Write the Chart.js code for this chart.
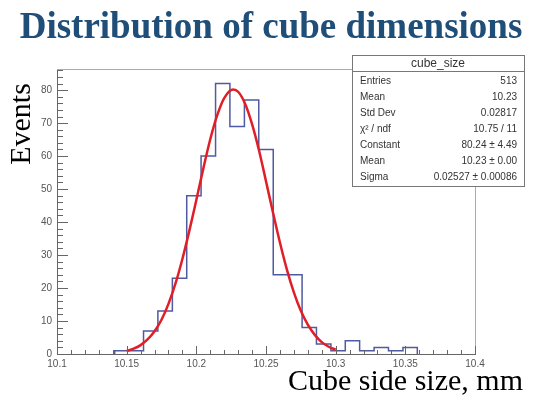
<!DOCTYPE html>
<html>
<head>
<meta charset="utf-8">
<script src="https://cdn.jsdelivr.net/npm/chart.js@4"></script>
<style>
  body { margin: 0; background: #fff; }
  canvas { display: block; }
</style>
</head>
<body>
<canvas id="cubechart" width="538" height="397"></canvas>
<script>
'use strict';

// histogram: bin edges (mm) and entries per bin
var binEdges = [10.1414, 10.1517, 10.1621, 10.1724, 10.1828, 10.1931, 10.2034, 10.2138,
  10.2241, 10.2345, 10.2448, 10.2552, 10.2655, 10.2759, 10.2862, 10.2966, 10.3069,
  10.3172, 10.3276, 10.3379, 10.3483, 10.3586];
var binCounts = [1, 1, 7, 13, 23, 48, 60, 82, 69, 77, 62, 24, 24, 8, 3, 1, 4, 1, 2, 1, 2];

// red gaussian fit curve
var fitX = [10.150, 10.155, 10.160, 10.165, 10.170, 10.175, 10.180, 10.185, 10.190, 10.195,
  10.200, 10.205, 10.210, 10.215, 10.220, 10.2265, 10.230, 10.235, 10.240, 10.245, 10.250,
  10.255, 10.260, 10.265, 10.270, 10.275, 10.280, 10.285, 10.290, 10.295, 10.300];
var fitY = [0.9, 1.6, 2.7, 4.4, 6.9, 10.4, 15.2, 21.3, 28.8, 37.4,
  46.7, 56.2, 65.1, 72.4, 77.6, 80.2, 79.5, 75.9, 69.7, 61.7, 52.4,
  42.9, 33.8, 25.6, 18.7, 13.1, 8.9, 5.8, 3.6, 2.2, 1.3];

// stats box
var statsTitle = 'cube_size';
var statNames = ['Entries', 'Mean', 'Std Dev', 'χ² / ndf', 'Constant', 'Mean', 'Sigma'];
var statValues = ['513', '10.23', '0.02817', '10.75 / 11', '80.24 ± 4.49', '10.23 ± 0.00', '0.02527 ± 0.00086'];

var chartTitle = 'Distribution of cube dimensions';
var yTitle = 'Events';
var xTitle = 'Cube side size, mm';

// step outline of the histogram
var histPoints = [{x: binEdges[0], y: 0}];
for (var i = 0; i < binCounts.length; i++) {
  histPoints.push({x: binEdges[i], y: binCounts[i]});
}
histPoints.push({x: binEdges[binEdges.length - 1], y: 0});

var fitPoints = [];
for (var j = 0; j < fitX.length; j++) {
  fitPoints.push({x: fitX[j], y: fitY[j]});
}

// ROOT style decorations: frame, inward ticks, stats box, titles
var rootStyle = {
  id: 'rootStyle',
  afterDraw: function (chart) {
    var ctx = chart.ctx;
    var area = chart.chartArea;
    var xs = chart.scales.x;
    var ys = chart.scales.y;
    ctx.save();

    // frame top and right
    ctx.strokeStyle = '#aaa';
    ctx.lineWidth = 1;
    ctx.beginPath();
    ctx.moveTo(area.left, area.top + 0.5);
    ctx.lineTo(area.right + 0.5, area.top + 0.5);
    ctx.lineTo(area.right + 0.5, area.bottom);
    ctx.stroke();

    // inward ticks
    ctx.strokeStyle = '#666';
    ctx.beginPath();
    for (var k = 0; k <= 30; k++) {
      var px = Math.round(xs.getPixelForValue(10.1 + k * 0.01)) + 0.5;
      var len = (k % 5 === 0) ? 8 : 4;
      ctx.moveTo(px, area.bottom);
      ctx.lineTo(px, area.bottom - len);
    }
    for (var m = 0; m <= 86; m += 2) {
      var py = Math.round(ys.getPixelForValue(m)) + 0.5;
      var ylen = (m % 10 === 0) ? 11 : 6;
      ctx.moveTo(area.left, py);
      ctx.lineTo(area.left + ylen, py);
    }
    ctx.stroke();

    // stats box
    var bx = 352, by = 55, bw = 172, bh = 131;
    ctx.fillStyle = '#fff';
    ctx.fillRect(bx, by, bw, bh);
    ctx.strokeStyle = '#777';
    ctx.strokeRect(bx + 0.5, by + 0.5, bw, bh);
    ctx.beginPath();
    ctx.moveTo(bx, by + 16.5);
    ctx.lineTo(bx + bw, by + 16.5);
    ctx.stroke();
    ctx.fillStyle = '#333';
    ctx.textBaseline = 'middle';
    ctx.textAlign = 'center';
    ctx.font = '12px "Liberation Sans", Arial, sans-serif';
    ctx.fillText(statsTitle, bx + bw / 2, by + 9);
    ctx.font = '10px "Liberation Sans", Arial, sans-serif';
    for (var r = 0; r < statNames.length; r++) {
      var ry = by + 26 + r * 16;
      ctx.textAlign = 'left';
      ctx.fillText(statNames[r], bx + 8, ry);
      ctx.textAlign = 'right';
      ctx.fillText(statValues[r], bx + bw - 7, ry);
    }

    // main title
    ctx.fillStyle = '#1f4e79';
    ctx.textAlign = 'center';
    ctx.textBaseline = 'alphabetic';
    ctx.font = 'bold 37px "Liberation Serif", "Times New Roman", serif';
    ctx.fillText(chartTitle, 271, 38);

    // axis titles
    ctx.fillStyle = '#000';
    ctx.font = '30px "Liberation Serif", "Times New Roman", serif';
    ctx.textAlign = 'right';
    ctx.fillText(xTitle, 523, 390);

    ctx.translate(30, 124);
    ctx.rotate(-Math.PI / 2);
    ctx.textAlign = 'center';
    ctx.fillText(yTitle, 0, 0);
    ctx.restore();
  }
};

var ctx = document.getElementById('cubechart').getContext('2d');
var chart = new Chart(ctx, {
  type: 'line',
  data: {
    datasets: [{
      label: 'fit',
      data: fitPoints,
      borderColor: 'rgb(225, 30, 40)',
      borderWidth: 2.5,
      pointRadius: 0,
      cubicInterpolationMode: 'monotone',
      fill: false
    }, {
      label: 'cube_size',
      data: histPoints,
      borderColor: 'rgb(80, 90, 160)',
      borderWidth: 1.5,
      pointRadius: 0,
      stepped: true,
      fill: false
    }]
  },
  options: {
    responsive: false,
    devicePixelRatio: 1,
    animation: false,
    layout: { padding: { left: 0, top: 69, right: 63, bottom: 0 } },
    plugins: { legend: { display: false }, tooltip: { enabled: false } },
    scales: {
      x: {
        type: 'linear',
        min: 10.1,
        max: 10.4,
        afterFit: function (s) { s.height = 43; },
        grid: { drawOnChartArea: false, drawTicks: false },
        border: { color: '#666' },
        ticks: {
          stepSize: 0.05,
          padding: 4,
          color: '#555',
          font: { family: '"Liberation Sans", Arial, sans-serif', size: 10 },
          maxRotation: 0,
          callback: function (v) { return String(Number(v.toFixed(2))); }
        }
      },
      y: {
        min: 0,
        max: 86.4,
        afterFit: function (s) { s.width = 57; },
        grid: { drawOnChartArea: false, drawTicks: false },
        border: { color: '#666' },
        ticks: {
          stepSize: 10,
          padding: 5,
          color: '#555',
          font: { family: '"Liberation Sans", Arial, sans-serif', size: 10 },
          callback: function (v) { return (v % 10 === 0) ? String(v) : ''; }
        }
      }
    }
  },
  plugins: [rootStyle]
});
</script>
</body>
</html>
